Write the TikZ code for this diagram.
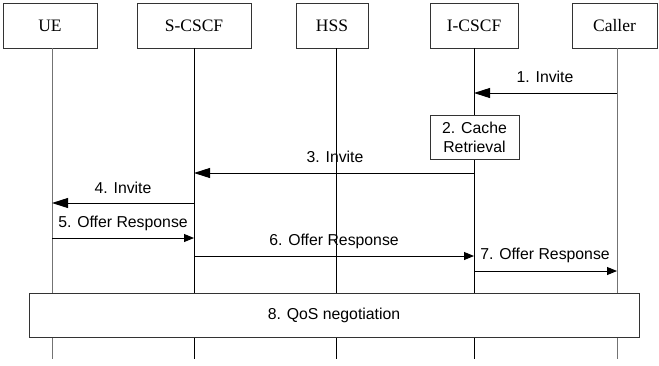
\documentclass[tikz,border=0pt]{standalone}
\usepackage{fontspec}
\setmainfont{Liberation Serif}
\setsansfont{Liberation Sans}
\usetikzlibrary{arrows.meta}
\begin{document}
\begin{tikzpicture}[x=1pt,y=-1pt,
  entity/.style={draw=black!80,line width=0.8pt,fill=white,inner sep=0pt,
    font=\fontsize{17.5}{20}\selectfont},
  lifeline/.style={line width=0.9pt},
  lifegray/.style={lifeline,draw=black!55},
  larr/.style={line width=0.9pt,-{Triangle[length=16pt,width=10pt]}},
  rarr/.style={line width=0.9pt,-{Triangle[length=10pt,width=8pt]}},
  msg/.style={font=\sffamily\fontsize{15.8}{18}\selectfont,anchor=base,inner sep=0pt},
  actbox/.style={draw=black!80,line width=0.8pt,fill=white,inner sep=0pt,
    font=\sffamily\fontsize{15.8}{19}\selectfont,align=center}]
\useasboundingbox (0,0) rectangle (659,365);

% participants
\node[entity,minimum width=94pt,minimum height=45pt] (ue) at (50,25.5) {UE};
\node[entity,minimum width=114pt,minimum height=45pt] (scscf) at (194,25.5) {S-CSCF};
\node[entity,minimum width=72pt,minimum height=45pt] (hss) at (332,25.5) {HSS};
\node[entity,minimum width=88pt,minimum height=45pt] (icscf) at (474,25.5) {I-CSCF};
\node[entity,minimum width=85pt,minimum height=45pt] (caller) at (614.5,25.5) {Caller};

% lifeline end points
\coordinate (ueT) at (52,48);     \coordinate (ueB) at (52,359);
\coordinate (scT) at (194,48);    \coordinate (scB) at (194,359);
\coordinate (hsT) at (336,48);    \coordinate (hsB) at (336,359);
\coordinate (icT) at (474,48);    \coordinate (icB) at (474,359);
\coordinate (caT) at (617,48);    \coordinate (caB) at (617,359);

\draw[lifegray] (ueT) -- (ueB);
\draw[lifeline] (scT) -- (scB);
\draw[lifeline] (hsT) -- (hsB);
\draw[lifeline] (icT) -- (icB);
\draw[lifegray] (caT) -- (caB);

% message rows
\coordinate (m1) at (0,93);
\coordinate (m3) at (0,173);
\coordinate (m4) at (0,203);
\coordinate (m5) at (0,238);
\coordinate (m6) at (0,256);
\coordinate (m7) at (0,271);

\draw[larr] (caT |- m1) -- (icT |- m1);
\node[msg] (l1) at (545,82) {1. Invite};

\node[actbox,minimum width=89pt,minimum height=44pt] (cache) at (474.5,137)
  {2. Cache\\Retrieval};

\draw[larr] (icT |- m3) -- (scT |- m3);
\node[msg] (l3) at (335,162) {3. Invite};

\draw[larr] (scT |- m4) -- (ueT |- m4);
\node[msg] (l4) at (123,193) {4. Invite};

\draw[rarr] (ueT |- m5) -- (scT |- m5);
\node[msg] (l5) at (123,227) {5. Offer Response};

\draw[rarr] (scT |- m6) -- (icT |- m6);
\node[msg] (l6) at (334,245) {6. Offer Response};

\draw[rarr] (icT |- m7) -- (caT |- m7);
\node[msg] (l7) at (545,259) {7. Offer Response};

\node[actbox,minimum width=610pt,minimum height=44pt] (qos) at (334,315)
  {8. QoS negotiation};
\end{tikzpicture}
\end{document}
